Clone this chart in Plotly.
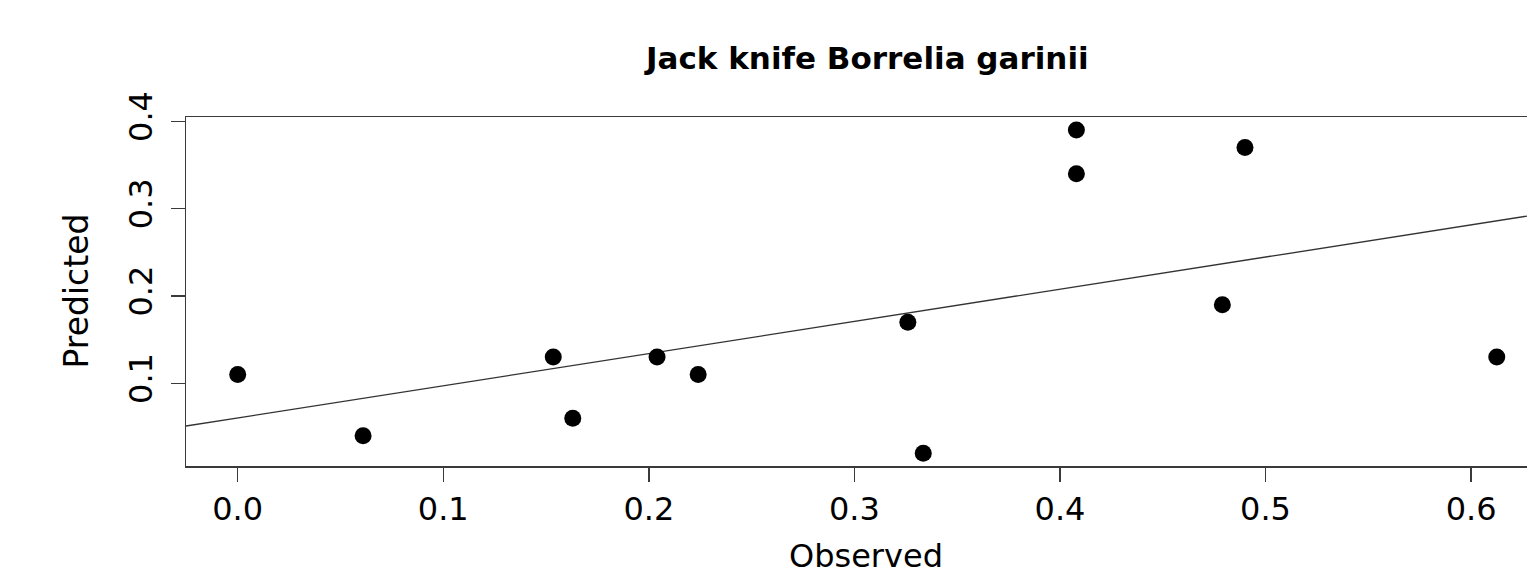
import plotly.graph_objects as go

# ---- data ----
observed = [0.0, 0.061, 0.1535, 0.163, 0.204, 0.224, 0.326, 0.3335, 0.408, 0.408, 0.479, 0.490, 0.6125]
predicted = [0.11, 0.04, 0.13, 0.06, 0.13, 0.11, 0.17, 0.02, 0.39, 0.34, 0.19, 0.37, 0.13]
fit_intercept = 0.0603
fit_slope = 0.3684

x_ticks = [0.0, 0.1, 0.2, 0.3, 0.4, 0.5, 0.6]
x_tick_labels = ["0.0", "0.1", "0.2", "0.3", "0.4", "0.5", "0.6"]
y_ticks = [0.1, 0.2, 0.3, 0.4]
y_tick_labels = ["0.1", "0.2", "0.3", "0.4"]

title_text = "Jack knife Borrelia garinii"
x_label = "Observed"
y_label = "Predicted"

x_range = [-0.02515, 0.6272]
y_range = [0.0053, 0.4049]

FONT = "DejaVu Sans"
LINE = "#3a3a3a"

fig = go.Figure()
fig.add_trace(go.Scatter(
    x=x_range, y=[fit_intercept + fit_slope * v for v in x_range],
    mode="lines", line=dict(color="#333333", width=1.4), hoverinfo="skip", showlegend=False))
fig.add_trace(go.Scatter(
    x=observed, y=predicted, mode="markers",
    marker=dict(color="black", size=17, line=dict(width=0)), showlegend=False))

fig.update_layout(
    width=1527, height=576,
    margin=dict(l=186, r=0, t=117, b=110, pad=0),
    paper_bgcolor="white", plot_bgcolor="white",
    font=dict(family=FONT, color="black", size=32),
    hovermode=False,
    xaxis=dict(range=x_range, tickvals=x_ticks, ticktext=x_tick_labels,
               showgrid=False, zeroline=False, showline=True, mirror=True,
               linecolor=LINE, linewidth=1.5, ticks="outside", ticklen=14,
               tickwidth=1.5, tickcolor=LINE, tickfont=dict(family=FONT, size=32, color="black"),
               fixedrange=True),
    yaxis=dict(range=y_range, tickvals=y_ticks, ticktext=y_tick_labels,
               showgrid=False, zeroline=False, showline=True, mirror=False,
               linecolor=LINE, linewidth=1.5, ticks="outside", ticklen=14,
               tickwidth=1.5, tickcolor=LINE, tickangle=-90, ticklabelstandoff=6,
               tickfont=dict(family=FONT, size=32, color="black"),
               fixedrange=True),
    annotations=[
        dict(text=title_text, xref="paper", yref="paper", x=(866 - 186) / 1341, y=(466 - 58) / 349,
             xanchor="center", yanchor="middle", showarrow=False,
             font=dict(family=FONT, size=31, color="black", weight="bold")),
        dict(text=x_label, xref="paper", yref="paper", x=(866 - 186) / 1341, y=(466 - 556) / 349,
             xanchor="center", yanchor="middle", showarrow=False,
             font=dict(family=FONT, size=32, color="black")),
        dict(text=y_label, xref="paper", yref="paper", x=(76 - 186) / 1341, y=0.5,
             xanchor="center", yanchor="middle", showarrow=False, textangle=-90,
             font=dict(family=FONT, size=33, color="black")),
    ],
)

fig.write_html("out.html", config={"displayModeBar": False, "staticPlot": True},
               post_script="document.body.style.margin='0';document.body.style.overflow='hidden';")
